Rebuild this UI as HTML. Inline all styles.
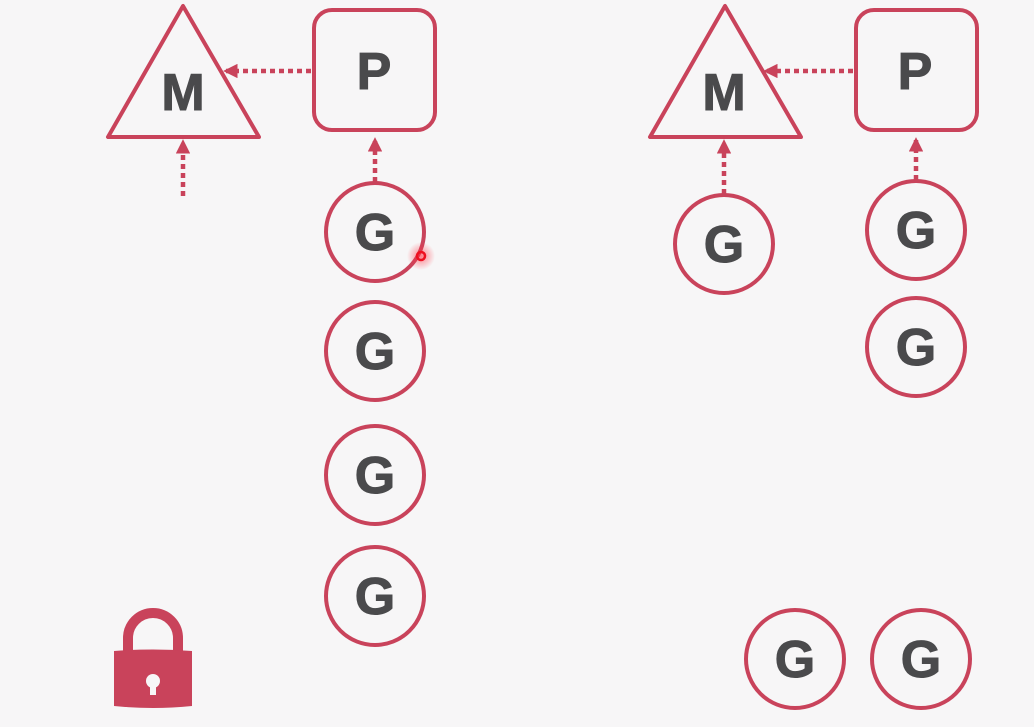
<!DOCTYPE html>
<html><head><meta charset="utf-8"><style>
html,body{margin:0;padding:0;background:#f7f6f7;}
svg{display:block}
text{font-family:"Liberation Sans",sans-serif;font-weight:bold;fill:#4a4a4c;text-anchor:middle;stroke:#4a4a4c;stroke-width:1}
</style></head><body>
<svg width="1034" height="727" viewBox="0 0 1034 727">
<defs>
<marker id="ah" viewBox="0 0 10 10" refX="8" refY="5" markerWidth="3.2" markerHeight="3.2" orient="auto"><path d="M0,0 L10,5 L0,10 z" fill="#c9435b" stroke="none"/></marker>
<radialGradient id="glow"><stop offset="0" stop-color="#ff3040" stop-opacity="0.6"/><stop offset="1" stop-color="#ff3040" stop-opacity="0"/></radialGradient>
</defs>
<g fill="none" stroke="#c9435b" stroke-width="4">
<polygon points="183,6 108,137 259,137" stroke-linejoin="round"/>
<rect x="314" y="10" width="121" height="120" rx="18"/>
<polygon points="725,6 650,137 801,137" stroke-linejoin="round"/>
<rect x="856" y="10" width="121" height="120" rx="18"/>
<g stroke-dasharray="5,4" stroke-width="4.5">
<line x1="311" y1="71" x2="226" y2="71" marker-end="url(#ah)"/>
<line x1="183" y1="196" x2="183" y2="142" marker-end="url(#ah)"/>
<line x1="375" y1="182" x2="375" y2="140" marker-end="url(#ah)"/>
<line x1="853" y1="71" x2="766" y2="71" marker-end="url(#ah)"/>
<line x1="724" y1="194" x2="724" y2="142" marker-end="url(#ah)"/>
<line x1="916" y1="180" x2="916" y2="140" marker-end="url(#ah)"/>
</g>
<circle cx="375" cy="232" r="49"/>
<circle cx="375" cy="351" r="49"/>
<circle cx="375" cy="475" r="49"/>
<circle cx="375" cy="596" r="49"/>
<circle cx="724" cy="244" r="49"/>
<circle cx="916" cy="230" r="49"/>
<circle cx="916" cy="347" r="49"/>
<circle cx="795" cy="659" r="49"/>
<circle cx="921" cy="659" r="49"/>
</g>
<g font-size="52">
<text x="183" y="110">M</text>
<text x="374" y="89">P</text>
<text x="724" y="110">M</text>
<text x="915" y="89">P</text>
<text x="375" y="250">G</text>
<text x="375" y="369">G</text>
<text x="375" y="493">G</text>
<text x="375" y="614">G</text>
<text x="724" y="262">G</text>
<text x="916" y="248">G</text>
<text x="916" y="365">G</text>
<text x="795" y="677">G</text>
<text x="921" y="677">G</text>
</g>
<g>
<path d="M128,652 V638 a25,25 0 0 1 50,0 V652" fill="none" stroke="#c9435b" stroke-width="10"/>
<path d="M114,651 Q153,648 192,651 V706 Q153,710 114,706 Z" fill="#c9435b"/>
<circle cx="153" cy="681" r="7" fill="#f7f6f7"/>
<rect x="150" y="683" width="6" height="12" fill="#f7f6f7"/>
</g>
<g>
<circle cx="421" cy="256" r="14" fill="url(#glow)"/>
<circle cx="421" cy="256" r="4" fill="none" stroke="#ee1020" stroke-width="2.5"/>
</g>
</svg>
</body></html>
